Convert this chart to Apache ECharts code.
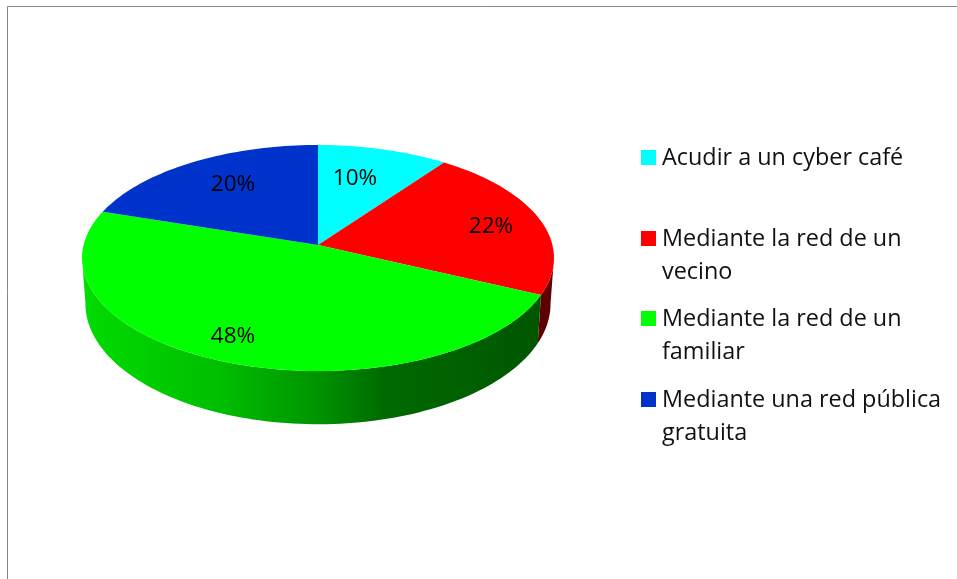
<!DOCTYPE html>
<html>
<head>
<meta charset="utf-8">
<style>
  html, body { margin: 0; padding: 0; background: #fff; }
  #main { width: 957px; height: 579px; }
</style>
<script src="https://cdn.jsdelivr.net/npm/echarts@6/dist/echarts.min.js"></script>
</head>
<body>
<div id="main"></div>
<script>
  var categories = ['Acudir a un cyber café', 'Mediante la red de un\nvecino', 'Mediante la red de un\nfamiliar', 'Mediante una red pública\ngratuita']
  var values = [10, 22, 48, 20]
  var colors = ['#00ffff', '#ff0000', '#00ff00', '#0033cc']

  var FONT = '"Open Sans", sans-serif'
  var total = values.reduce(function (a, b) { return a + b }, 0)

  // tilted disc: top and bottom plane of the pie, perspective p
  var topPlane = { x: 318, y: 245, sx: 234.4, sy: 111.5 }
  var bottomPlane = { x: 318, y: 290, sx: 231, sy: 118.8 }
  var p = 0.115
  // part of the rim facing the viewer, between the two silhouette points
  var frontFrom = Math.acos(-p) / (2 * Math.PI)
  var frontTo = 1 - frontFrom

  function project(plane, share) {
    var a = share * 2 * Math.PI
    var u = Math.sin(a), v = Math.cos(a), w = 1 + p * v
    return [plane.x + plane.sx * u / w, plane.y - plane.sy * v / w]
  }
  function arc(plane, from, to) {
    var pts = [], n = Math.max(2, Math.ceil((to - from) * 240))
    for (var i = 0; i <= n; i++) {
      pts.push(project(plane, from + (to - from) * i / n))
    }
    return pts
  }
  function startShare(i) {
    var s = 0
    for (var k = 0; k < i; k++) s += values[k]
    return s / total
  }

  var sideFills = [
    '#007f7f',
    '#5e0000',
    new echarts.graphic.LinearGradient(0, 0, 1, 0, [
      { offset: 0, color: '#00dc00' },
      { offset: 0.3, color: '#00be00' },
      { offset: 0.5, color: '#009600' },
      { offset: 0.66, color: '#006a00' },
      { offset: 1, color: '#005600' }
    ]),
    '#001a66'
  ]
  // label offset from the apex, as the reference places them
  var labelOffset = [[37, -66], [173, -18], [-85, 92], [-85, -60]]

  var legendY = [157, 238, 318, 399]
  var legendItems = []
  categories.forEach(function (name, i) {
    legendItems.push({
      type: 'rect',
      shape: { x: 641, y: legendY[i] - 7, width: 15, height: 15 },
      style: { fill: colors[i] }
    })
    legendItems.push({
      type: 'text',
      x: 662,
      y: legendY[i] - 15.5,
      style: { text: name, font: '23.4px ' + FONT, lineHeight: 33, fill: '#111', verticalAlign: 'top' }
    })
  })

  var frame = [
    { type: 'line', shape: { x1: 7.5, y1: 6.5, x2: 957, y2: 6.5 }, style: { stroke: '#868686', lineWidth: 1 } },
    { type: 'line', shape: { x1: 7.5, y1: 6.5, x2: 7.5, y2: 579 }, style: { stroke: '#868686', lineWidth: 1 } }
  ]

  var option = {
    animation: false,
    graphic: { elements: frame.concat(legendItems) },
    series: [
      {
        type: 'custom',
        coordinateSystem: 'none',
        z: 1,
        data: values,
        renderItem: function (params, api) {
          var i = params.dataIndex
          var from = Math.max(startShare(i), frontFrom)
          var to = Math.min(startShare(i) + api.value(0) / total, frontTo)
          if (to <= from) return null
          var pts = arc(topPlane, from, to).concat(arc(bottomPlane, from, to).reverse())
          return { type: 'polygon', shape: { points: pts }, style: { fill: sideFills[i] } }
        }
      },
      {
        type: 'custom',
        coordinateSystem: 'none',
        z: 2,
        data: values,
        renderItem: function (params, api) {
          var i = params.dataIndex
          var from = startShare(i)
          var to = from + api.value(0) / total
          var pts = [[topPlane.x, topPlane.y]].concat(arc(topPlane, from, to))
          return {
            type: 'group',
            children: [
              { type: 'polygon', shape: { points: pts }, style: { fill: colors[i] } },
              {
                type: 'text',
                z2: 10,
                x: topPlane.x + labelOffset[i][0],
                y: topPlane.y + labelOffset[i][1],
                style: {
                  text: api.value(0) + '%',
                  font: '22.5px ' + FONT,
                  fill: '#000',
                  align: 'center',
                  verticalAlign: 'middle'
                }
              }
            ]
          }
        }
      }
    ]
  }

  var mychar = echarts.init(document.getElementById('main'))
  mychar.setOption(option)
</script>
</body>
</html>
